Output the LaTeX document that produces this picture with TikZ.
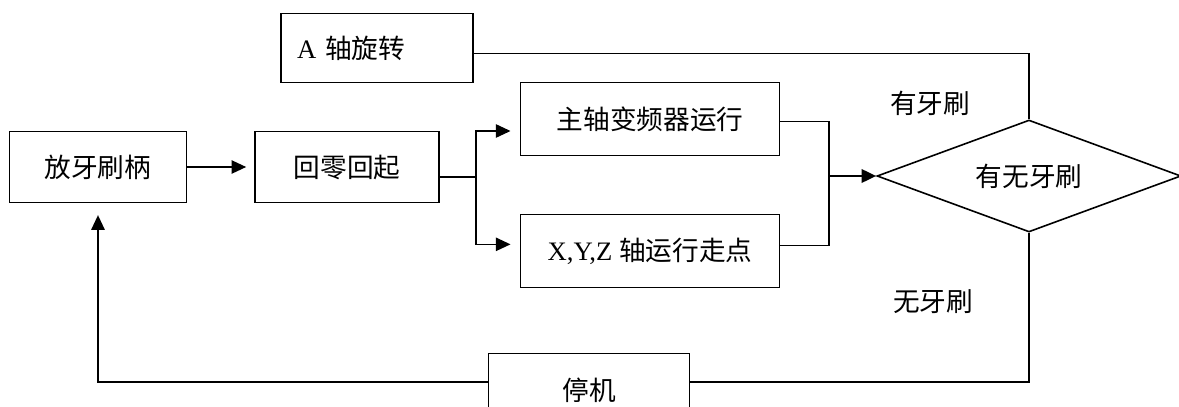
\documentclass[tikz,border=0pt]{standalone}
\usepackage{fontspec}
\setmainfont{Liberation Serif}
\newfontfamily\cjk{Noto Sans CJK SC}
\usetikzlibrary{arrows.meta,positioning,calc,shapes.geometric}

\begin{document}
\begin{tikzpicture}[
    x=0.75pt, y=-0.75pt,
    box/.style={draw, line width=1.2pt, minimum height=55pt, inner sep=0pt, font=\fontsize{20}{24}\selectfont},
    lbl/.style={font=\fontsize{20}{24}\selectfont, inner sep=0pt},
    link/.style={line width=1.2pt},
    arr/.style={-{Triangle[length=11pt,width=10pt]}, line width=1.2pt}
]
\useasboundingbox (0,0) rectangle (1179,407);

\node[box, minimum width=133pt, minimum height=53pt] (hand) at (98,167) {\cjk 放牙刷柄};
\node[box, minimum width=138pt, minimum height=53pt] (home) at (347,167) {\cjk 回零回起};
\node[box, minimum width=144pt, minimum height=52pt, text width=120pt, align=left] (aaxis) at (377,48) {A {\cjk 轴旋转}};
\node[box, minimum width=194pt] (spindle) at (650,119) {\cjk 主轴变频器运行};
\node[box, minimum width=194pt] (xyz) at (650,251) {X,Y,Z {\cjk 轴运行走点}};
\node[box, diamond, aspect=2.7, minimum width=228pt, minimum height=84pt] (check) at (1029,176) {\cjk 有无牙刷};
\node[box, minimum width=151pt] (stop) at (589,390) {\cjk 停机};

\node[lbl] (yes) at (930,103) {\cjk 有牙刷};
\node[lbl] (no) at (933,302) {\cjk 无牙刷};

\coordinate (split) at (476,177);
\coordinate (merge) at (829,176);

\draw[arr, shorten >=6pt] (hand) -- (home);
\draw[link] (home.east |- split) -- (split);
\draw[arr, shorten >=7pt] (split) |- ([yshift=-9pt]spindle.west);
\draw[arr, shorten >=7pt] (split) |- ([yshift=5pt]xyz.west);
\draw[link] ([yshift=-2pt]spindle.east) -| (merge);
\draw[link] ([yshift=4pt]xyz.east) -| (merge);
\draw[arr, line width=2pt] (merge) -- (check.west);
\draw[link] ([yshift=-4pt]aaxis.east) -| (check.north);
\draw[link] (check.south) |- ([yshift=6pt]stop.east);
\draw[arr, shorten >=9pt] ([yshift=6pt]stop.west) -| (hand.south);
\end{tikzpicture}
\end{document}
